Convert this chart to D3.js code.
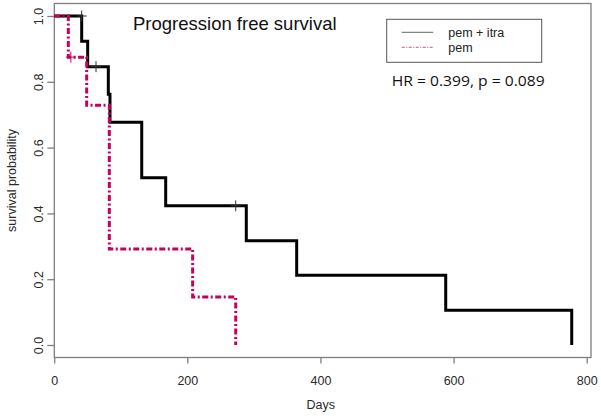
<!DOCTYPE html>
<html>
<head>
<meta charset="utf-8">
<script src="https://cdn.jsdelivr.net/npm/d3@7"></script>
<style>
  html, body { margin: 0; padding: 0; background: #fff; }
  svg { display: block; }
  text { font-family: "Liberation Sans", Arial, sans-serif; }
</style>
</head>
<body>
<svg id="chart" width="601" height="418"></svg>
<script>
// ---- data ----
const seriesNames = ["pem + itra", "pem"];
// pem + itra (black)
const itraTimes = [0, 41.3, 50.3, 81.3, 83.8, 131.5, 167.5, 288.6, 364.3, 588.2, 777.5];
const itraSurv  = [1, 0.923, 0.846, 0.762, 0.677, 0.508, 0.423, 0.317, 0.212, 0.106, 0];
const itraCensorTimes = [41.3, 62.8, 272.7];
const itraCensorSurv  = [1, 0.846, 0.423];
// pem (magenta)
const pemTimes = [0, 21.2, 48.8, 82.8, 208, 272.7];
const pemSurv  = [1, 0.875, 0.729, 0.292, 0.146, 0];
const pemCensorTimes = [25];
const pemCensorSurv  = [0.875];
// axes
const xTicks = [0, 200, 400, 600, 800];
const yTicks = [0, 0.2, 0.4, 0.6, 0.8, 1.0];
const yTickLabels = ["0.0", "0.2", "0.4", "0.6", "0.8", "1.0"];
const titleText = "Progression free survival";
const statText = "HR = 0.399, p = 0.089";
const xTitle = "Days";
const yTitle = "survival probability";

// ---- drawing ----
const svg = d3.select("#chart");
const x = d3.scaleLinear().domain([0, 800]).range([54.2, 586.7]);
const y = d3.scaleLinear().domain([0, 1]).range([345, 16]);
const box = {x0: 54.3, x1: 591, y0: 3.5, y1: 357.5};
const black = "#000000", pink = "#c8005c", grey = "#7f7f7f";

// plot box
svg.append("rect")
  .attr("x", box.x0).attr("y", box.y0)
  .attr("width", box.x1 - box.x0).attr("height", box.y1 - box.y0)
  .attr("fill", "none").attr("stroke", grey).attr("stroke-width", 1.3);

// x axis
const xa = svg.append("g").attr("transform", `translate(0,${box.y1})`)
  .call(d3.axisBottom(x).tickValues(xTicks).tickSize(6).tickFormat(d3.format("d")));
xa.select(".domain").remove();
xa.selectAll(".tick line").attr("stroke", grey).attr("stroke-width", 1.3);
xa.selectAll(".tick text").attr("y", 27.5).attr("dy", 0)
  .attr("fill", "#2a2a2a").style("font-size", "12.5px").style("font-family", "'Liberation Sans', Arial, sans-serif");

// y axis
const ya = svg.append("g").attr("transform", `translate(${box.x0},0)`)
  .call(d3.axisLeft(y).tickValues(yTicks).tickSize(7).tickFormat((d, i) => yTickLabels[i]));
ya.select(".domain").remove();
ya.selectAll(".tick line").attr("stroke", grey).attr("stroke-width", 1.3);
ya.selectAll(".tick text")
  .attr("transform", "rotate(-90)").attr("x", 0).attr("y", -11).attr("dy", 0)
  .attr("text-anchor", "middle")
  .attr("fill", "#2a2a2a").style("font-size", "12.5px").style("font-family", "'Liberation Sans', Arial, sans-serif");

// axis titles
svg.append("text").attr("x", (box.x0 + box.x1) / 2 - 2).attr("y", 409)
  .attr("text-anchor", "middle").attr("fill", "#2a2a2a").style("font-size", "12.5px").text(xTitle);
svg.append("text").attr("transform", `translate(16,${(box.y0 + box.y1) / 2}) rotate(-90)`)
  .attr("text-anchor", "middle").attr("fill", "#2a2a2a").style("font-size", "12.5px").text(yTitle);

// curves
const line = d3.line().x(d => x(d[0])).y(d => y(d[1])).curve(d3.curveStepAfter);
const itraPts = itraTimes.map((t, i) => [t, itraSurv[i]]);
const pemPts = pemTimes.map((t, i) => [t, pemSurv[i]]);

svg.append("path").attr("d", line(itraPts))
  .attr("fill", "none").attr("stroke", black).attr("stroke-width", 3)
  .attr("stroke-linejoin", "miter").attr("stroke-linecap", "butt");
svg.append("path").attr("d", line(pemPts))
  .attr("fill", "none").attr("stroke", pink).attr("stroke-width", 3)
  .attr("stroke-dasharray", "6,2.5,2,2.5").attr("stroke-linecap", "butt");

// censor marks
function plus(g, xs, ys, color) {
  xs.forEach((t, i) => {
    const cx = x(t), cy = y(ys[i]);
    g.append("line").attr("x1", cx).attr("x2", cx).attr("y1", cy - 5.5).attr("y2", cy + 5.5)
      .attr("stroke", color).attr("stroke-width", 1);
    g.append("line").attr("x1", cx - 5).attr("x2", cx + 5).attr("y1", cy).attr("y2", cy)
      .attr("stroke", color).attr("stroke-width", 1);
  });
}
const cg = svg.append("g");
plus(cg, itraCensorTimes, itraCensorSurv, "#333");
plus(cg, pemCensorTimes, pemCensorSurv, pink);

// title
svg.append("text").attr("x", 133).attr("y", 30).attr("fill", "#111")
  .style("font-size", "18.5px").text(titleText);

// legend
const lg = svg.append("g");
lg.append("rect").attr("x", 386.7).attr("y", 19.3).attr("width", 155).attr("height", 43)
  .attr("fill", "#fff").attr("stroke", "#555").attr("stroke-width", 1);
const legColors = [black, pink];
const legDash = [null, "3,1.5,1,1.5"];
seriesNames.forEach((name, i) => {
  const ly = 32.3 + i * 15;
  lg.append("line").attr("x1", 401.7).attr("x2", 433.3).attr("y1", ly).attr("y2", ly)
    .attr("stroke", legColors[i]).attr("stroke-width", 1).attr("stroke-opacity", i === 0 ? 0.6 : 0.7)
    .attr("stroke-dasharray", legDash[i]);
  lg.append("text").attr("x", 448.3).attr("y", ly + 4.5).attr("fill", "#222")
    .style("font-size", "12.5px").text(name);
});

// HR annotation
svg.append("text").attr("x", 391.7).attr("y", 86).attr("fill", "#111")
  .style("font-family", "'Open Sans', 'Noto Sans', sans-serif").style("font-size", "15px")
  .attr("textLength", 153).attr("lengthAdjust", "spacingAndGlyphs")
  .text(statText);
</script>
</body>
</html>
